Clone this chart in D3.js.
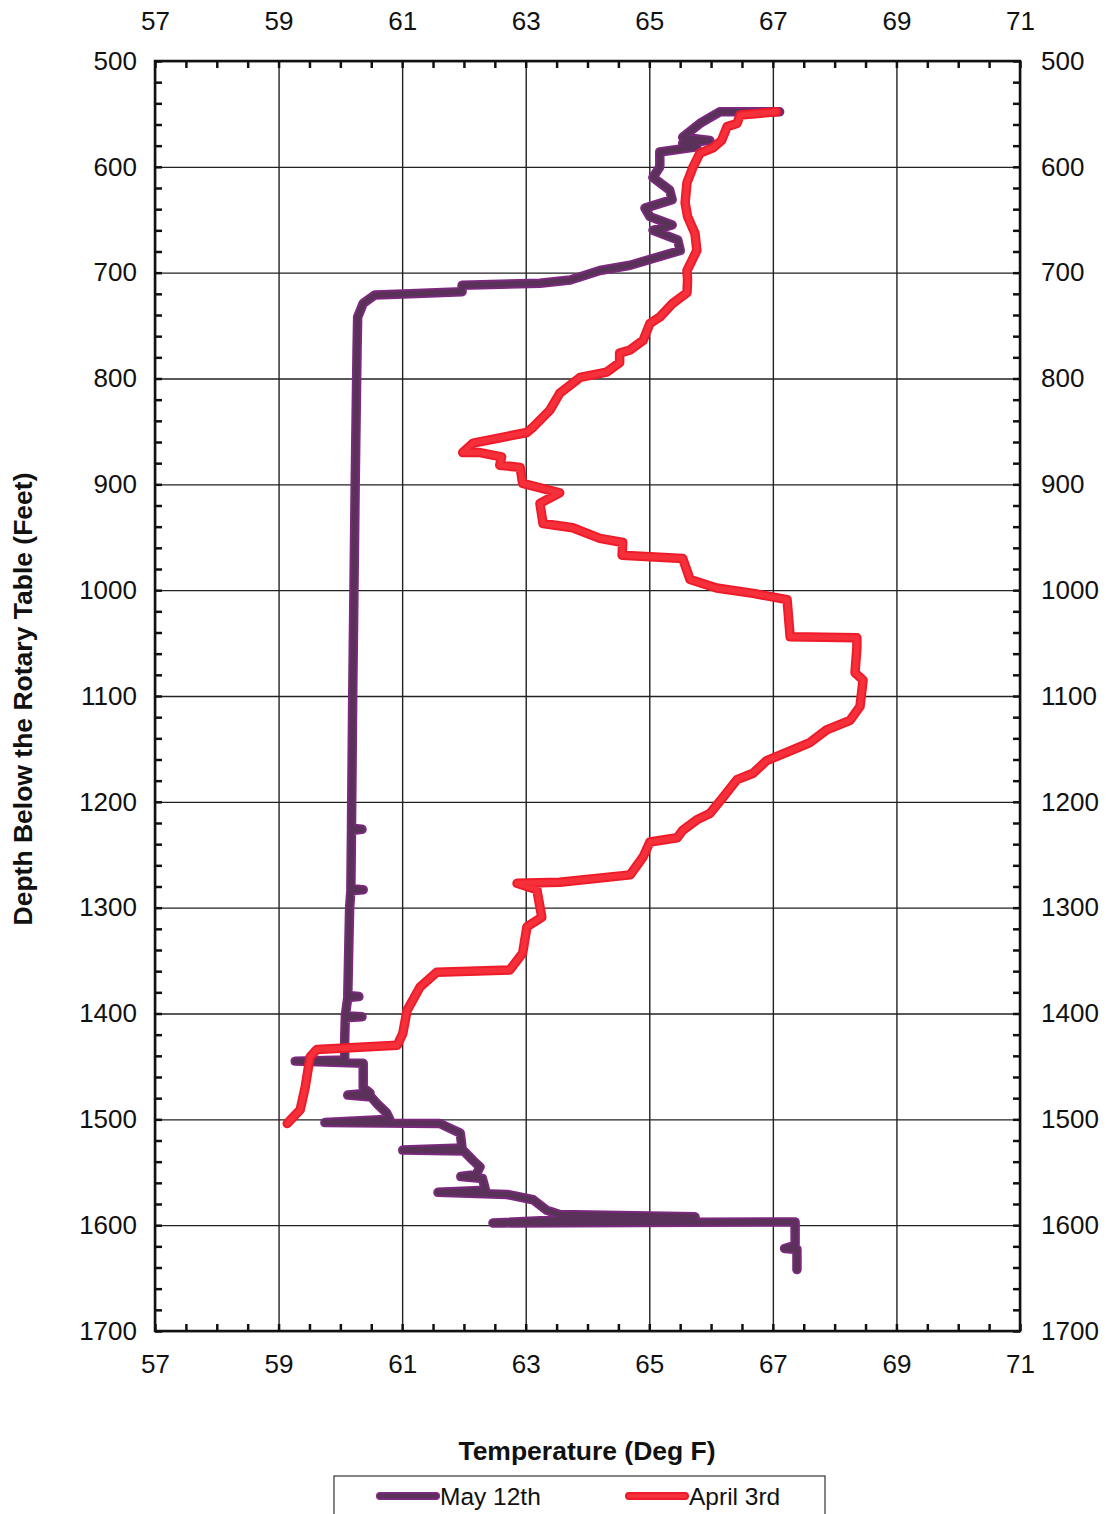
<!DOCTYPE html>
<html>
<head>
<meta charset="utf-8">
<script src="https://cdn.jsdelivr.net/npm/d3@7"></script>
<style>
  body { margin: 0; background: #fff; }
  text { font-family: "Liberation Sans", Arial, sans-serif; fill: #111; }
</style>
</head>
<body>
<div id="chart"></div>
<script>
// axis ticks
let tempTicks = [57, 59, 61, 63, 65, 67, 69, 71];
let depthTicks = [500, 600, 700, 800, 900, 1000, 1100, 1200, 1300, 1400, 1500, 1600, 1700];

// May 12th log (depth in feet, temperature in deg F)
let mayDepth = [548, 548, 559, 572, 575, 578, 581, 586, 600, 610, 622, 631, 639, 647, 655, 660, 669, 679,
    693, 698, 707, 710, 712, 718, 720, 721, 729, 742, 773, 900, 1000, 1100, 1225, 1226, 1227, 1282, 1283, 1284,
    1300, 1383, 1384, 1385, 1402, 1403, 1404, 1425, 1444, 1445, 1447, 1470, 1475, 1477, 1479, 1485, 1494,
    1500, 1503, 1504, 1507, 1513, 1527, 1529, 1530, 1539, 1545, 1552, 1554, 1556, 1567, 1569, 1571, 1576,
    1586, 1590, 1592, 1595, 1598, 1597, 1619, 1622, 1623, 1642];
let mayTemp = [67.11, 66.14, 65.82, 65.54, 65.98, 65.54, 65.77, 65.17, 65.17, 65.06, 65.33, 65.37, 64.93, 65.01, 65.37, 65.06, 65.46, 65.50,
    64.69, 64.20, 63.72, 63.23, 61.97, 61.97, 61.13, 60.56, 60.37, 60.28, 60.27, 60.24, 60.22, 60.20, 60.18, 60.35, 60.18, 60.17, 60.37, 60.17,
    60.15, 60.12, 60.30, 60.12, 60.08, 60.35, 60.08, 60.07, 60.07, 59.27, 60.37, 60.37, 60.48, 60.12, 60.50, 60.59, 60.75,
    60.80, 59.75, 61.61, 61.72, 61.94, 61.97, 61.01, 62.00, 62.15, 62.26, 62.20, 61.95, 62.30, 62.35, 61.58, 62.70, 63.12,
    63.34, 63.55, 65.74, 63.50, 62.47, 67.36, 67.36, 67.19, 67.39, 67.39];

// April 3rd log
let aprilDepth = [548, 551, 559, 562, 575, 582, 587, 600, 615, 634, 647, 663, 679, 698, 707, 719, 729, 742, 748, 764,
    773, 776, 785, 794, 799, 814, 830, 846, 851, 861, 870, 870, 874, 882, 884, 899, 908, 918, 937, 941, 951, 955, 967, 970,
    990, 998, 1003, 1009, 1044, 1045, 1054, 1078, 1085, 1110, 1123, 1132, 1144, 1151, 1161, 1173, 1179, 1196, 1211, 1217,
    1227, 1234, 1238, 1252, 1269, 1276, 1277, 1283, 1309, 1318, 1343, 1359, 1361, 1375, 1397, 1419, 1430, 1434, 1441,
    1470, 1491, 1504];
let aprilTemp = [67.06, 66.47, 66.42, 66.26, 66.17, 66.03, 65.82, 65.71, 65.61, 65.58, 65.62, 65.74, 65.77, 65.61, 65.62, 65.61, 65.38, 65.17, 65.01, 64.90,
    64.69, 64.52, 64.52, 64.31, 63.88, 63.55, 63.39, 63.12, 63.02, 62.15, 61.98, 62.26, 62.61, 62.58, 62.91, 62.95, 63.55, 63.23, 63.28, 63.76, 64.20, 64.57, 64.56, 65.54,
    65.66, 66.09, 66.68, 67.23, 67.28, 68.36, 68.36, 68.33, 68.46, 68.41, 68.25, 67.87, 67.60, 67.32, 66.90, 66.68, 66.42, 66.19, 65.98, 65.77,
    65.54, 65.45, 65.01, 64.90, 64.69, 63.55, 62.86, 63.18, 63.26, 63.02, 62.95, 62.74, 61.56, 61.29, 61.08, 61.01, 60.92, 59.62, 59.51,
    59.43, 59.35, 59.14];

let series = [
    {name: "May 12th", depth: mayDepth, temp: mayTemp, outer: "#7a2a7c", inner: "#5a3158"},
    {name: "April 3rd", depth: aprilDepth, temp: aprilTemp, outer: "#ee1c2a", inner: "#f6303a"}
];

let margin = {top: 61, right: 89, bottom: 183, left: 155};
let totalW = 1109, totalH = 1514;
let width = totalW - margin.left - margin.right;
let height = totalH - margin.top - margin.bottom;

let svg = d3.select("#chart").append("svg")
    .attr("width", totalW)
    .attr("height", totalH);

let g = svg.append("g")
    .attr("transform", `translate(${margin.left}, ${margin.top})`);

let x = d3.scaleLinear().domain([57, 71]).range([0, width]);
let y = d3.scaleLinear().domain([500, 1700]).range([0, height]);

// gridlines
g.append("g")
    .attr("class", "grid")
    .call(d3.axisTop(x).tickValues(tempTicks).tickSize(-height).tickFormat(""))
    .call(s => s.select(".domain").remove())
    .selectAll("line").attr("stroke", "#222").attr("stroke-width", 1.4);

g.append("g")
    .attr("class", "grid")
    .call(d3.axisLeft(y).tickValues(depthTicks).tickSize(-width).tickFormat(""))
    .call(s => s.select(".domain").remove())
    .selectAll("line").attr("stroke", "#222").attr("stroke-width", 1.4);

// minor ticks, pointing inward on all four sides
let minorX = d3.range(57, 71.01, 0.5);
let minorY = d3.range(500, 1700.1, 20);

function styleTicks(sel) {
    sel.select(".domain").remove();
    sel.selectAll("line").attr("stroke", "#111").attr("stroke-width", 2.5);
}

g.append("g").call(d3.axisBottom(x).tickValues(minorX).tickSize(7).tickFormat("")).call(styleTicks);
g.append("g").attr("transform", `translate(0, ${height})`)
    .call(d3.axisTop(x).tickValues(minorX).tickSize(7).tickFormat("")).call(styleTicks);
g.append("g").call(d3.axisRight(y).tickValues(minorY).tickSize(7).tickFormat("")).call(styleTicks);
g.append("g").attr("transform", `translate(${width}, 0)`)
    .call(d3.axisLeft(y).tickValues(minorY).tickSize(7).tickFormat("")).call(styleTicks);

// frame
g.append("rect")
    .attr("width", width)
    .attr("height", height)
    .attr("fill", "none")
    .attr("stroke", "#111")
    .attr("stroke-width", 2.5);

// tick labels
function styleLabels(sel) {
    sel.select(".domain").remove();
    sel.selectAll("line").remove();
    sel.selectAll("text").style("font-size", "26px").attr("fill", "#111")
        .style("font-family", '"Liberation Sans", Arial, sans-serif');
}

g.append("g")
    .call(d3.axisTop(x).tickValues(tempTicks).tickSize(0).tickPadding(31).tickFormat(d3.format("d")))
    .call(styleLabels);
g.append("g").attr("transform", `translate(0, ${height})`)
    .call(d3.axisBottom(x).tickValues(tempTicks).tickSize(0).tickPadding(24).tickFormat(d3.format("d")))
    .call(styleLabels);
g.append("g")
    .call(d3.axisLeft(y).tickValues(depthTicks).tickSize(0).tickPadding(18).tickFormat(d3.format("d")))
    .call(styleLabels);
g.append("g").attr("transform", `translate(${width}, 0)`)
    .call(d3.axisRight(y).tickValues(depthTicks).tickSize(0).tickPadding(21).tickFormat(d3.format("d")))
    .call(styleLabels);

// data lines
let line = d3.line()
    .x(d => x(d[1]))
    .y(d => y(d[0]));

series.forEach(s => {
    let pts = s.depth.map((d, i) => [d, s.temp[i]]);
    g.append("path")
        .datum(pts)
        .attr("d", line)
        .attr("fill", "none")
        .attr("stroke", s.outer)
        .attr("stroke-width", 9.5)
        .attr("stroke-linejoin", "round")
        .attr("stroke-linecap", "round");
    g.append("path")
        .datum(pts)
        .attr("d", line)
        .attr("fill", "none")
        .attr("stroke", s.inner)
        .attr("stroke-width", 5.5)
        .attr("stroke-linejoin", "round")
        .attr("stroke-linecap", "round");
});

// axis titles
svg.append("text")
    .attr("x", 587)
    .attr("y", 1460)
    .attr("text-anchor", "middle")
    .style("font-size", "26.5px")
    .style("font-weight", "bold")
    .text("Temperature (Deg F)");

svg.append("text")
    .attr("transform", `translate(32, 699) rotate(-90)`)
    .attr("text-anchor", "middle")
    .style("font-size", "26.5px")
    .style("font-weight", "bold")
    .text("Depth Below the Rotary Table (Feet)");

// legend
let legend = svg.append("g");
legend.append("rect")
    .attr("x", 334)
    .attr("y", 1476)
    .attr("width", 491)
    .attr("height", 60)
    .attr("fill", "#fff")
    .attr("stroke", "#333")
    .attr("stroke-width", 1.2);

let legendX = [380, 629];
series.forEach((s, i) => {
    legend.append("line")
        .attr("x1", legendX[i]).attr("x2", legendX[i] + 56)
        .attr("y1", 1496).attr("y2", 1496)
        .attr("stroke", s.outer).attr("stroke-width", 8).attr("stroke-linecap", "round");
    legend.append("line")
        .attr("x1", legendX[i]).attr("x2", legendX[i] + 56)
        .attr("y1", 1496).attr("y2", 1496)
        .attr("stroke", s.inner).attr("stroke-width", 4).attr("stroke-linecap", "round");
    legend.append("text")
        .attr("x", legendX[i] + 60)
        .attr("y", 1505)
        .style("font-size", "24.5px")
        .text(s.name);
});
</script>
</body>
</html>
